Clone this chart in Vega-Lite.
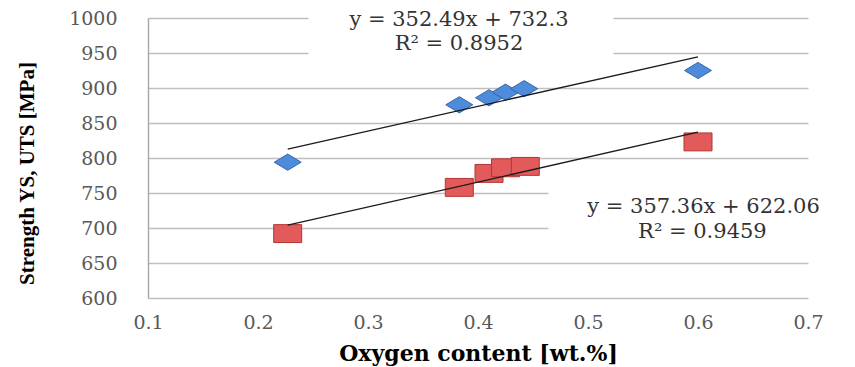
{
  "$schema": "https://vega.github.io/schema/vega-lite/v6.json",
  "width": 660,
  "height": 280,
  "autosize": {"type": "none"},
  "padding": {"left": 148, "top": 18, "right": 47, "bottom": 69},
  "background": "white",
  "config": {"view": {"stroke": null}, "font": "DejaVu Serif"},
  "datasets": {
    "points": [
      {"series": "UTS", "oxygen": 0.227, "strength": 794},
      {"series": "UTS", "oxygen": 0.383, "strength": 876},
      {"series": "UTS", "oxygen": 0.41, "strength": 886},
      {"series": "UTS", "oxygen": 0.425, "strength": 894},
      {"series": "UTS", "oxygen": 0.442, "strength": 899},
      {"series": "UTS", "oxygen": 0.6, "strength": 925},
      {"series": "YS", "oxygen": 0.227, "strength": 692},
      {"series": "YS", "oxygen": 0.383, "strength": 758},
      {"series": "YS", "oxygen": 0.41, "strength": 778},
      {"series": "YS", "oxygen": 0.425, "strength": 786},
      {"series": "YS", "oxygen": 0.443, "strength": 788},
      {"series": "YS", "oxygen": 0.6, "strength": 823}
    ],
    "notes": [
      {"label": "y = 352.49x + 732.3", "oxygen": 0.3827, "strength": 997.1},
      {"label": "R² = 0.8952", "oxygen": 0.3827, "strength": 962.9},
      {"label": "y = 357.36x + 622.06", "oxygen": 0.605, "strength": 729.3},
      {"label": "R² = 0.9459", "oxygen": 0.604, "strength": 693.6}
    ],
    "boxes": [
      {"oxygen": 0.3845, "strength": 978.6},
      {"oxygen": 0.6027, "strength": 718.6}
    ]
  },
  "encoding": {
    "x": {
      "field": "oxygen",
      "type": "quantitative",
      "scale": {"domain": [0.1, 0.7], "nice": false, "zero": false},
      "axis": {
        "title": "Oxygen content [wt.%]",
        "values": [0.1, 0.2, 0.3, 0.4, 0.5, 0.6, 0.7],
        "format": ".1f",
        "grid": false,
        "ticks": false,
        "domain": false,
        "labelFlush": false,
        "labelOverlap": false,
        "labelFont": "DejaVu Serif",
        "labelFontSize": 19,
        "labelColor": "#595959",
        "labelPadding": 15,
        "titleFont": "DejaVu Serif",
        "titleFontWeight": "bold",
        "titleFontSize": 22,
        "titleColor": "black",
        "titleY": 62,
        "titleBaseline": "alphabetic"
      }
    },
    "y": {
      "field": "strength",
      "type": "quantitative",
      "scale": {"domain": [600, 1000], "nice": false, "zero": false},
      "axis": {
        "title": "Strength YS, UTS [MPa]",
        "values": [600, 650, 700, 750, 800, 850, 900, 950, 1000],
        "format": "d",
        "grid": true,
        "gridColor": "#BFBFBF",
        "gridWidth": 1.4,
        "ticks": false,
        "domain": true,
        "domainColor": "#A6A6A6",
        "domainWidth": 1.4,
        "labelFlush": false,
        "labelOverlap": false,
        "labelFont": "DejaVu Serif",
        "labelFontSize": 19,
        "labelColor": "#595959",
        "labelPadding": 31,
        "titleFont": "Liberation Serif",
        "titleFontWeight": "bold",
        "titleFontSize": 21,
        "titleColor": "black",
        "titleX": -115,
        "titleY": 155,
        "titleAlign": "center",
        "titleBaseline": "alphabetic"
      }
    }
  },
  "layer": [
    {
      "data": {"name": "boxes"},
      "mark": {"type": "point", "shape": "M-1,-0.18H1V0.18H-1Z", "size": 93025, "filled": true, "fill": "white", "opacity": 1, "strokeWidth": 0}
    },
    {
      "data": {"name": "points"},
      "transform": [{"filter": "datum.series === 'UTS'"}],
      "mark": {"type": "point", "shape": "M-1,0L0,-0.6L1,0L0,0.6Z", "size": 729, "filled": true, "fill": "#4F8BDB", "stroke": "#3566AE", "strokeWidth": 1, "opacity": 1}
    },
    {
      "data": {"name": "points"},
      "transform": [{"filter": "datum.series === 'YS'"}],
      "mark": {"type": "point", "shape": "M-1,-0.64H1V0.64H-1Z", "size": 784, "filled": true, "fill": "#E25A5A", "stroke": "#B53535", "strokeWidth": 1, "opacity": 1}
    },
    {
      "data": {"name": "points"},
      "transform": [{"regression": "strength", "on": "oxygen", "groupby": ["series"]}],
      "mark": {"type": "line", "color": "#1A1A1A", "strokeWidth": 1.3},
      "encoding": {"detail": {"field": "series"}}
    },
    {
      "data": {"name": "notes"},
      "mark": {"type": "text", "font": "DejaVu Serif", "fontSize": 21, "color": "#333333", "align": "center", "baseline": "middle"},
      "encoding": {"text": {"field": "label"}}
    }
  ]
}
